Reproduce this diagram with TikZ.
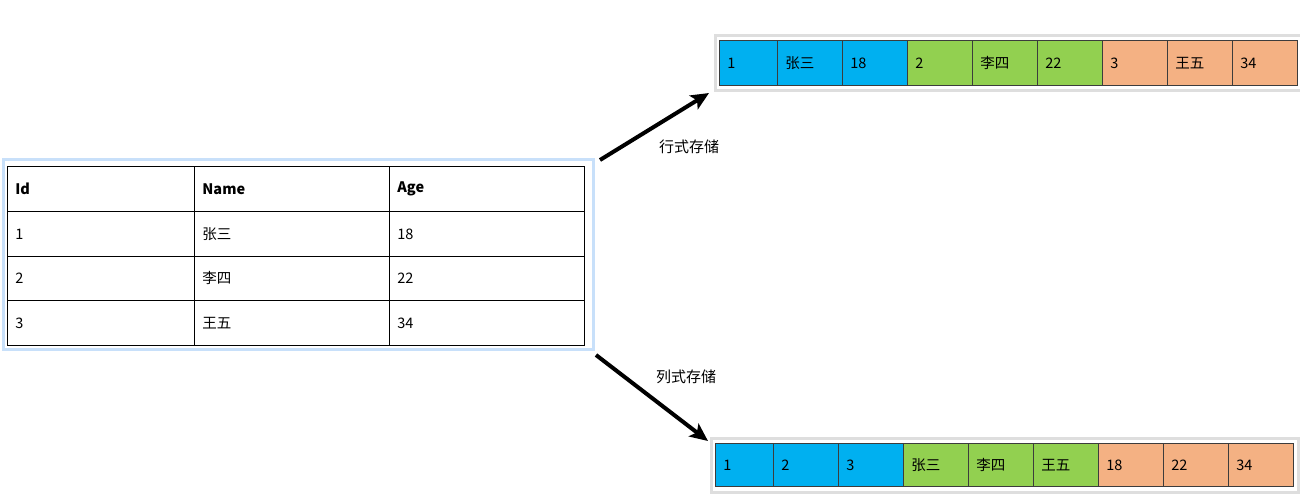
\documentclass[tikz,border=0pt]{standalone}
\usepackage{fontspec}
\setmainfont{Noto Sans CJK SC}
\usetikzlibrary{arrows.meta}
\definecolor{cblue}{RGB}{0,176,240}
\definecolor{cgreen}{RGB}{146,208,80}
\definecolor{corange}{RGB}{244,177,131}
\definecolor{glowcol}{RGB}{200,224,250}
\definecolor{shadecol}{RGB}{222,222,222}
\definecolor{cellline}{RGB}{60,60,60}
\begin{document}
\begin{tikzpicture}[x=1pt,y=-1pt,
  every node/.style={font=\fontsize{14.5}{17}\selectfont, inner sep=0pt},
  tcell/.style={draw=black, line width=0.8pt, minimum height=45pt, text width=#1-16pt, minimum width=#1, inner xsep=8pt, align=left, anchor=north west},
  scell/.style={draw=cellline, line width=0.8pt, minimum height=45pt, text width=#1-16pt, minimum width=#1, inner xsep=8pt, align=left, anchor=north west},
  lbl/.style={font=\fontsize{15}{17}\selectfont},
  arr/.style={line width=4pt, -{Stealth[length=18pt,width=16pt,inset=4pt]}}
]
\useasboundingbox (0,0) rectangle (1300,495);
% table glow
\draw[glowcol, line width=3pt, fill=white] (3,159.5) rectangle (593,349.5);
% table
\node[tcell=187pt] (h1) at (7,166) {\bfseries Id};
\node[tcell=195pt] (h2) at (194,166) {\bfseries Name};
\node[tcell=195pt] (h3) at (389,166) {\bfseries Age};
\node[tcell=187pt] (r11) at (7,211) {1};
\node[tcell=195pt] (r12) at (194,211) {张三};
\node[tcell=195pt] (r13) at (389,211) {18};
\node[tcell=187pt, minimum height=44pt] (r21) at (7,256) {2};
\node[tcell=195pt, minimum height=44pt] (r22) at (194,256) {李四};
\node[tcell=195pt, minimum height=44pt] (r23) at (389,256) {22};
\node[tcell=187pt] (r31) at (7,300) {3};
\node[tcell=195pt] (r32) at (194,300) {王五};
\node[tcell=195pt] (r33) at (389,300) {34};
% top strip
\draw[draw=shadecol, line width=3pt, fill=white] (715,36) rectangle (1301,90);
\node[scell=58pt, fill=cblue] (a1) at (719,40) {1};
\node[scell=65pt, fill=cblue] (a2) at (777,40) {张三};
\node[scell=65pt, fill=cblue] (a3) at (842,40) {18};
\node[scell=65pt, fill=cgreen] (a4) at (907,40) {2};
\node[scell=65pt, fill=cgreen] (a5) at (972,40) {李四};
\node[scell=65pt, fill=cgreen] (a6) at (1037,40) {22};
\node[scell=65pt, fill=corange] (a7) at (1102,40) {3};
\node[scell=65pt, fill=corange] (a8) at (1167,40) {王五};
\node[scell=65pt, fill=corange] (a9) at (1232,40) {34};
% bottom strip
\draw[draw=shadecol, line width=3pt, fill=white] (711,438) rectangle (1298,492);
\node[scell=58pt, minimum height=43pt, fill=cblue] (b1) at (715,443) {1};
\node[scell=65pt, minimum height=43pt, fill=cblue] (b2) at (773,443) {2};
\node[scell=65pt, minimum height=43pt, fill=cblue] (b3) at (838,443) {3};
\node[scell=65pt, minimum height=43pt, fill=cgreen] (b4) at (903,443) {张三};
\node[scell=65pt, minimum height=43pt, fill=cgreen] (b5) at (968,443) {李四};
\node[scell=65pt, minimum height=43pt, fill=cgreen] (b6) at (1033,443) {王五};
\node[scell=65pt, minimum height=43pt, fill=corange] (b7) at (1098,443) {18};
\node[scell=65pt, minimum height=43pt, fill=corange] (b8) at (1163,443) {22};
\node[scell=65pt, minimum height=43pt, fill=corange] (b9) at (1228,443) {34};
% arrows
\coordinate (s1) at (600,160);
\coordinate (e1) at (709,93);
\coordinate (s2) at (596,355);
\coordinate (e2) at (708,441);
\draw[arr] (s1) -- (e1);
\draw[arr] (s2) -- (e2);
\node[lbl] (l1) at (689,147) {行式存储};
\node[lbl] (l2) at (686,377) {列式存储};
\end{tikzpicture}
\end{document}
